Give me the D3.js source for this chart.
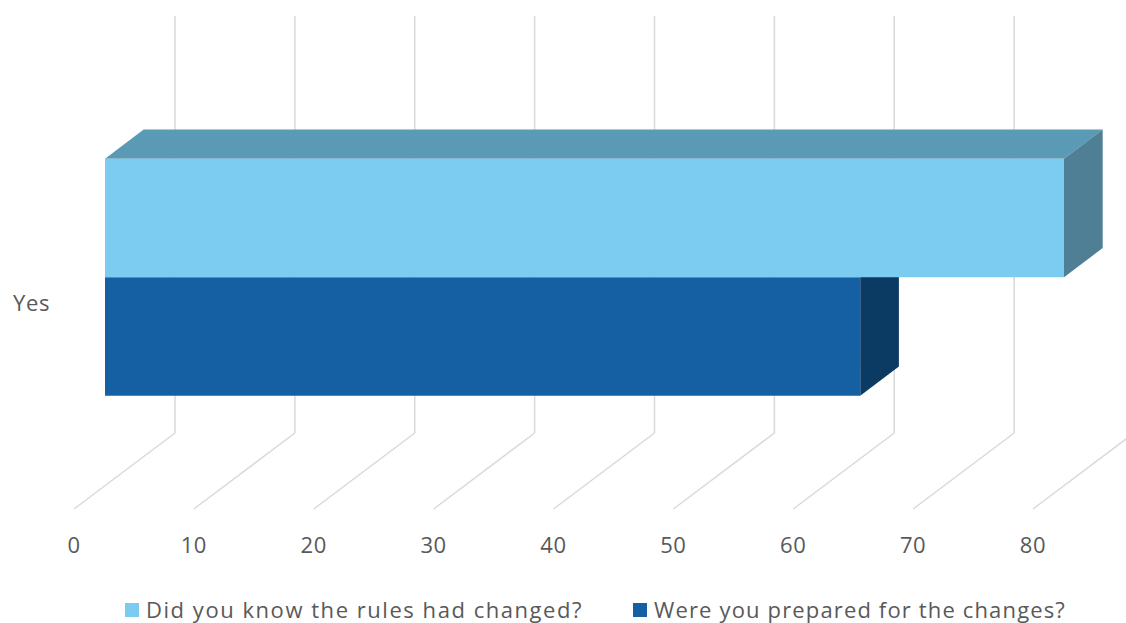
<!DOCTYPE html>
<html>
<head>
<meta charset="utf-8">
<script src="https://cdn.jsdelivr.net/npm/d3@7/dist/d3.min.js"></script>
<style>
  html, body { margin: 0; padding: 0; background: #ffffff; }
  svg { display: block; }
  text { font-family: "Open Sans", Lato, sans-serif; fill: #595959; }
</style>
</head>
<body>
<svg id="chart" width="1126" height="623"></svg>
<script>
// ---- data ----
const categories = ["Yes"];
const seriesNames = ["Did you know the rules had changed?", "Were you prepared for the changes?"];
const knewValues = [80];
const preparedValues = [63];
const tickValues = [0, 10, 20, 30, 40, 50, 60, 70, 80];

// ---- styles / layout ----
const W = 1126, H = 623;
const DX = 101, DY = 76;           // full depth projection offset
const floorY = 509, wallTopY = 92; // front-plane vertical extents
const d0 = 0.307, d1 = 0.69;       // bar depth span (fraction of depth)
const faceColors = [
  { front: "#7BCCF0", top: "#5B9AB4", side: "#4E7F95" },
  { front: "#1460A2", top: "#0F4A7D", side: "#0B3A62" }
];
const gridColor = "#D9D9D9";
const fontSize = 22;

const svg = d3.select("#chart");

const x = d3.scaleLinear().domain([0, 80]).range([74, 1033]);
const y = d3.scaleBand().domain(categories).range([wallTopY, floorY]).paddingInner(0).paddingOuter(0.38);
const ys = d3.scaleBand().domain(d3.range(seriesNames.length)).range([0, y.bandwidth()]);

const proj = (px, py, d) => [px + d * DX, py - d * DY];

// gridlines (back wall + floor)
const grid = svg.append("g");
tickValues.forEach(t => {
  const xb = x(t) + DX;
  grid.append("line").attr("x1", xb).attr("x2", xb).attr("y1", wallTopY - DY).attr("y2", floorY - DY)
    .attr("stroke", gridColor).attr("stroke-width", 1.5);
  grid.append("line").attr("x1", xb).attr("y1", floorY - DY).attr("x2", x(t)).attr("y2", floorY)
    .attr("stroke", gridColor).attr("stroke-width", 1.5);
});

// tick labels
svg.append("g").selectAll("text").data(tickValues).join("text")
  .attr("x", d => x(d)).attr("y", 553)
  .attr("text-anchor", "middle").attr("font-size", fontSize).attr("letter-spacing", 0.6)
  .text(d => d);

// bars
const seriesValues = [knewValues, preparedValues];
const line = d3.line();
const bars = svg.append("g");
categories.forEach((cat, ci) => {
  for (let si = seriesNames.length - 1; si >= 0; si--) {
    const v = seriesValues[si][ci];
    const yt = y(cat) + ys(si), yb = yt + ys.bandwidth();
    const xl = x(0), xr = x(v);
    const c = faceColors[si];
    const P = proj;
    bars.append("path").attr("fill", c.top)
      .attr("d", line([P(xl, yt, d0), P(xr, yt, d0), P(xr, yt, d1), P(xl, yt, d1)]) + "Z");
    bars.append("path").attr("fill", c.side)
      .attr("d", line([P(xr, yt, d0), P(xr, yt, d1), P(xr, yb, d1), P(xr, yb, d0)]) + "Z");
    bars.append("path").attr("fill", c.front)
      .attr("d", line([P(xl, yt, d0), P(xr, yt, d0), P(xr, yb, d0), P(xl, yb, d0)]) + "Z");
  }
  svg.append("text").attr("x", 50).attr("y", y(cat) + y.bandwidth() / 2 + 1)
    .attr("text-anchor", "end").attr("dominant-baseline", "central")
    .attr("font-size", fontSize).attr("letter-spacing", 0.6).text(cat);
});

// legend
const legendX = [125, 633];
const lg = svg.append("g");
seriesNames.forEach((name, i) => {
  lg.append("rect").attr("x", legendX[i]).attr("y", 603).attr("width", 14).attr("height", 14)
    .attr("fill", faceColors[i].front);
  const t = lg.append("text").attr("x", legendX[i] + 21).attr("y", 618).attr("font-size", fontSize).text(name);
  // spread letters slightly so the label spans the same width as in the reference
  const target = i === 0 ? 437 : 412;
  const w = t.node().getComputedTextLength();
  const n = name.length;
  t.attr("letter-spacing", Math.max(0, (target - w) / n));
});
</script>
</body>
</html>
